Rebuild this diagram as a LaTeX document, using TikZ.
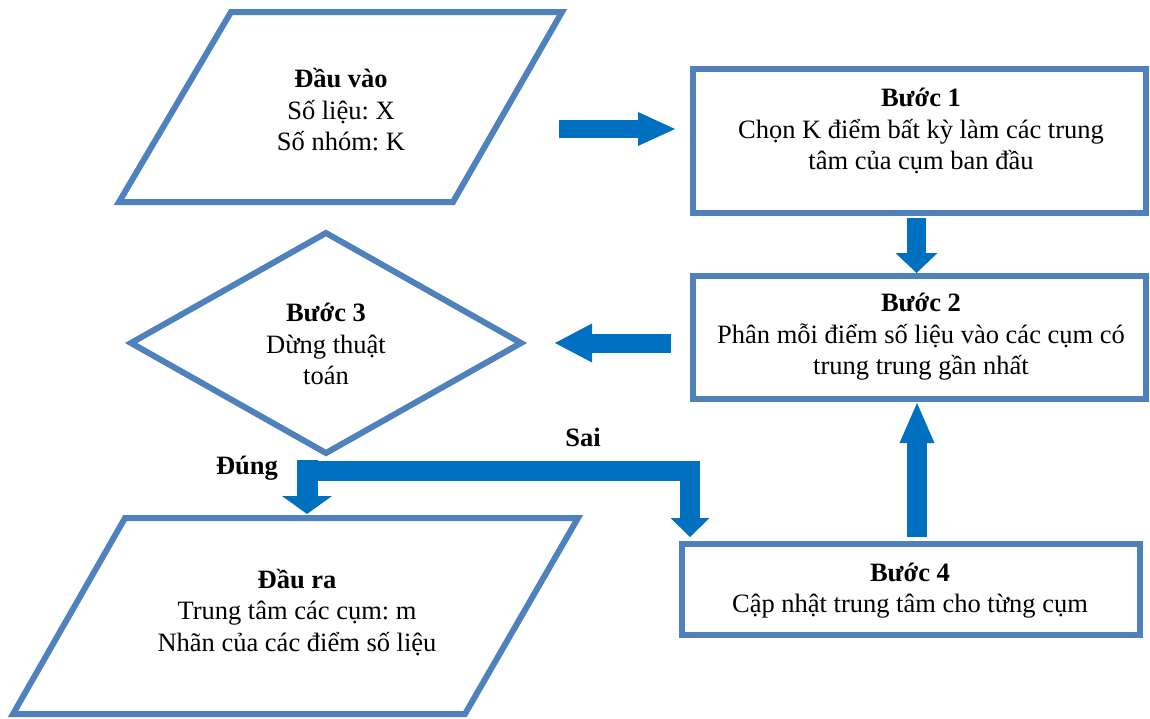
\documentclass[tikz,border=0pt]{standalone}
\usepackage{fontspec}
\setmainfont{Liberation Serif}
\usetikzlibrary{shapes.geometric,arrows.meta,calc}
\definecolor{outl}{HTML}{4F81BD}
\definecolor{ablue}{HTML}{0070C0}
\frenchspacing
\begin{document}
\begin{tikzpicture}[x=1pt,y=-1pt,
  shapeline/.style={draw=outl, line width=6pt, line join=miter},
  box/.style={shapeline, rectangle, inner sep=0pt, outer sep=0pt},
  txt/.style={align=center, font=\fontsize{26.5}{31.5}\selectfont, inner sep=0pt},
  lbl/.style={font=\fontsize{26.5}{31.5}\selectfont\bfseries, inner sep=0pt},
  barrow/.style={draw=ablue, line width=#1, line cap=butt, line join=miter},
]
\useasboundingbox (0,0) rectangle (1150,718);

% input parallelogram
\draw[shapeline] (231,12) -- (562,12) -- (453,202) -- (119,202) -- cycle;
\node[txt] (in) at (341,110) {\textbf{Đầu vào}\\Số liệu: X\\Số nhóm: K};

% step boxes
\node[box, minimum width=453pt, minimum height=144pt] (b1) at (919.5,141) {};
\node[txt] (b1t) at (921,131) {\textbf{Bước 1}\\Chọn K điểm bất kỳ làm các trung\\tâm của cụm ban đầu};

\node[box, minimum width=453pt, minimum height=123pt] (b2) at (919.5,337.5) {};
\node[txt] (b2t) at (921,337) {\textbf{Bước 2}\\Phân mỗi điểm số liệu vào các cụm có\\trung trung gần nhất};

\node[box, minimum width=458pt, minimum height=91pt] (b4) at (911,589.5) {};
\node[txt] (b4t) at (910,590.5) {\textbf{Bước 4}\\Cập nhật trung tâm cho từng cụm};

% decision
\node[shapeline, diamond, minimum width=390pt, minimum height=220pt, inner sep=0pt, outer sep=0pt] (d) at (326,343) {};
\node[txt] (dt) at (326,344) {\textbf{Bước 3}\\Dừng thuật\\toán};

% output parallelogram
\draw[shapeline] (125,518) -- (578,518) -- (465,714) -- (13,714) -- cycle;
\node[txt] (out) at (297,612.5) {\textbf{Đầu ra}\\Trung tâm các cụm: m\\Nhãn của các điểm số liệu};

% block arrows
\draw[barrow=18pt, -{Triangle[width=34pt,length=37pt,line width=0pt]}]
  ($(b1.west)+(-134,-12)$) -- ($(b1.west)+(-18,-12)$);
\draw[barrow=19pt, -{Triangle[width=42pt,length=20pt,line width=0pt]}]
  ($(b1.south)+(-3,5)$) -- ($(b2.north)+(-3,-3)$);
\draw[barrow=19pt, -{Triangle[width=39pt,length=37pt,line width=0pt]}]
  ($(d.east)+(150,0)$) -- ($(d.east)+(34,0)$);
\draw[barrow=20pt, -{Triangle[width=35pt,length=40pt,line width=0pt]}]
  ($(b4.north)+(6,-7)$) -- ($(b2.south)+(-2.5,4)$);
\draw[barrow=21pt, -{Triangle[width=50pt,length=18pt,line width=0pt]}]
  ($(d.south)+(-19,7)$) -- ($(d.south)+(-19,61)$);
\draw[barrow=20pt, -{Triangle[width=39pt,length=19pt,line width=0pt]}]
  ($(d.south)+(-29,18)$) -| ($(b4.north)+(-221,-7)$);

% branch labels
\node[lbl] (yes) at (247,468) {Đúng};
\node[lbl] (no) at (583,437) {Sai};
\end{tikzpicture}
\end{document}
